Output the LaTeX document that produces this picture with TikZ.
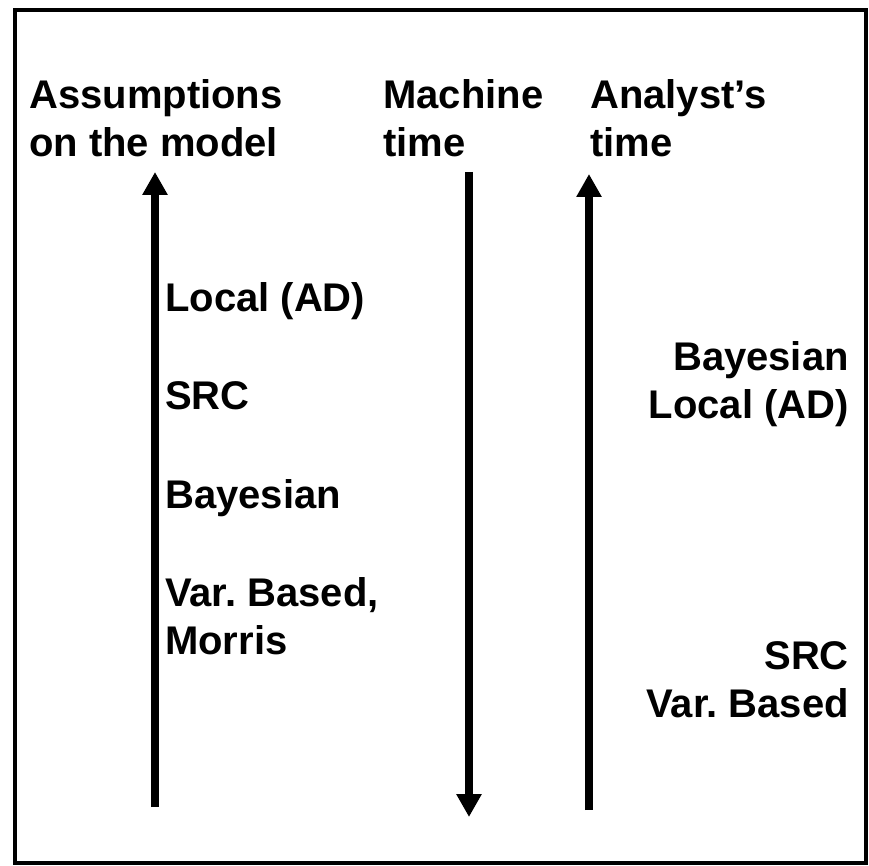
\documentclass[tikz,border=0pt]{standalone}
\usepackage{fontspec}
\setmainfont{Liberation Sans}
\usetikzlibrary{arrows.meta}

\tikzset{
  label text/.style = {font = \bfseries\fontsize{40}{48}\selectfont, inner sep = 0pt},
  axis arrow/.style = {line width = 8pt, -{Triangle[width = 24pt, length = 23pt]}}
}

\begin{document}
\begin{tikzpicture}[x = 1pt, y = -1pt]
\useasboundingbox (0, 0) rectangle (869, 866);

%frame
\draw [line width = 4pt] (15, 10) rectangle (866, 863);

%column headings (base is the last line)
\node [label text, anchor = base west, align = left] (assume) at (29, 157) {Assumptions\\on the model};
\node [label text, anchor = base west, align = left] (machine) at (383, 157) {Machine\\time};
\node [label text, anchor = base west, align = left] (analyst) at (590, 157) {Analyst's\\time};

%arrow ends
\coordinate (a1) at (155, 807);
\coordinate (b1) at (155, 172);
\coordinate (a2) at (469, 172);
\coordinate (b2) at (469, 817);
\coordinate (a3) at (589, 810);
\coordinate (b3) at (589, 174);

\draw [axis arrow] (a1) to (b1);
\draw [axis arrow] (a2) to (b2);
\draw [axis arrow] (a3) to (b3);

%methods ranked on the model assumptions
\node [label text, anchor = base west] (localleft) at (165, 312) {Local (AD)};
\node [label text, anchor = base west] (srcleft) at (165, 409) {SRC};
\node [label text, anchor = base west] (bayesleft) at (165, 508) {Bayesian};
\node [label text, anchor = base west, align = left] (varleft) at (165, 654) {Var.\ Based,\\Morris};

%methods ranked on the analyst's time
\node [label text, anchor = base east, align = right] (bayesright) at (849, 418) {Bayesian\\Local (AD)};
\node [label text, anchor = base east, align = right] (srcright) at (849, 717) {SRC\\Var.\ Based};

\end{tikzpicture}
\end{document}
